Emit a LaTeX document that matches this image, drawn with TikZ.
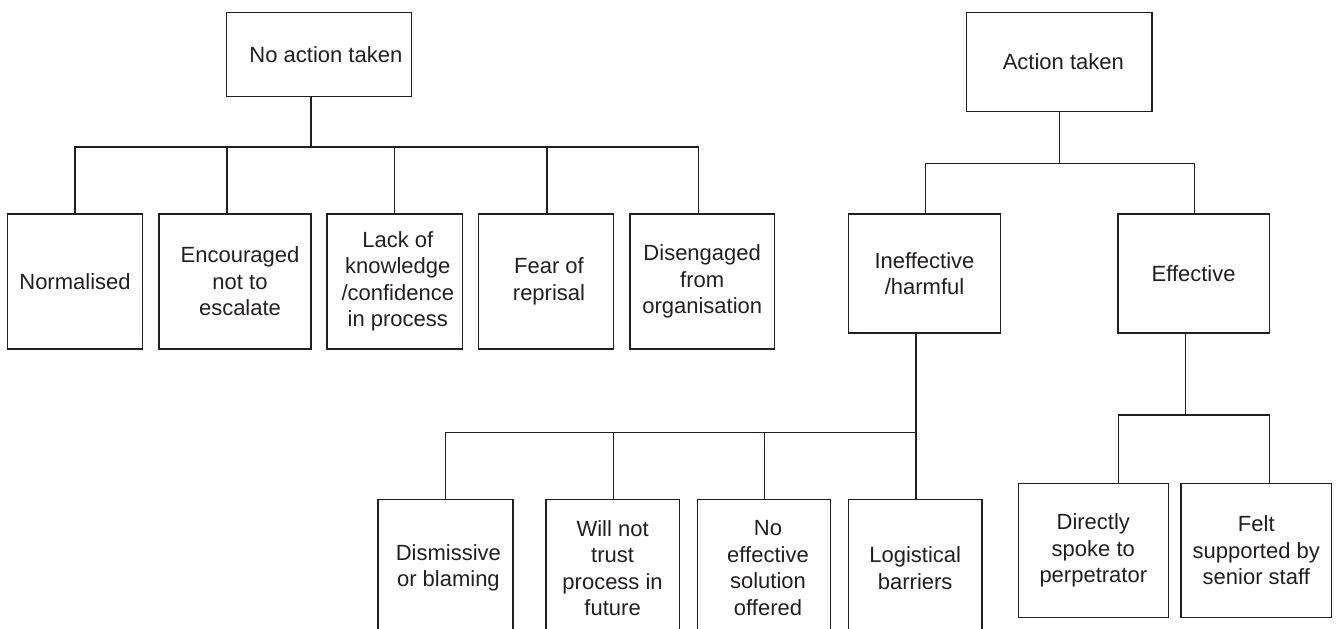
\documentclass[tikz,border=0pt]{standalone}
\usepackage{fontspec}
\setmainfont{Liberation Sans}
\definecolor{ink}{RGB}{35,31,32}
\begin{document}
\begin{tikzpicture}[x=1pt,y=-1pt,
  box/.style={draw=ink, line width=1.5pt, inner sep=0pt, outer sep=0pt, align=center,
    text=ink, font=\fontsize{22}{26.5}\selectfont},
  conn/.style={draw=ink, line width=1.3pt}]
\useasboundingbox (0,0) rectangle (1341,629);
\clip (0,0) rectangle (1341,629);
\fill[white] (0,0) rectangle (1341,629);

% left tree
\node[box, minimum width=185pt, minimum height=84.4pt] (noact) at (318.9,54.5) {\hspace*{14pt}No action taken};
\node[box, minimum width=135.4pt, minimum height=134.7pt] (norm) at (75,281.4) {Normalised};
\node[box, minimum width=152pt, minimum height=134.7pt] (enc) at (235,281.4) {\hspace*{10pt}Encouraged\\\hspace*{10pt}not to\\\hspace*{10pt}escalate};
\node[box, minimum width=135.8pt, minimum height=134.7pt] (lack) at (394.8,281.4) {\hspace*{6pt}Lack of\\\hspace*{6pt}knowledge\\\hspace*{6pt}/confidence\\\hspace*{6pt}in process};
\node[box, minimum width=134.8pt, minimum height=134.7pt] (fear) at (546,281.4) {\hspace*{6pt}Fear of\\\hspace*{6pt}reprisal};
\node[box, minimum width=144.8pt, minimum height=134.7pt] (diseng) at (702.2,281.4) {Disengaged\\from\\organisation};

% right tree
\node[box, minimum width=185.7pt, minimum height=99.4pt] (act) at (1059.3,62) {\hspace*{8pt}Action taken};
\node[box, minimum width=151.7pt, minimum height=118.7pt] (ineff) at (924.5,273.4) {Ineffective\\/harmful};
\node[box, minimum width=151.7pt, minimum height=118.7pt] (eff) at (1193.6,273.4) {Effective};

\node[box, minimum width=135pt, minimum height=137.4pt] (dism) at (445.4,568) {\hspace*{6pt}Dismissive\\\hspace*{6pt}or blaming};
\node[box, minimum width=133.3pt, minimum height=137.4pt] (will) at (612.6,568) {Will not\\trust\\process in\\future};
\node[box, minimum width=132.9pt, minimum height=137.4pt] (noeff) at (764,568) {\hspace*{8pt}No\\\hspace*{8pt}effective\\\hspace*{8pt}solution\\\hspace*{8pt}offered};
\node[box, minimum width=133.1pt, minimum height=137.4pt] (logi) at (915.2,568) {Logistical\\barriers};

\node[box, minimum width=150pt, minimum height=134.4pt] (direct) at (1093.3,550.5) {Directly\\spoke to\\perpetrator};
\node[box, minimum width=150.7pt, minimum height=134.4pt] (felt) at (1256.3,550.5) {Felt\\supported by\\senior staff};

% connectors
\foreach \c/\s in {norm/0, enc/-8, lack/0, fear/1, diseng/-4}
  \draw[conn] ([xshift=-8pt]noact.south) -- ++(0,50.3) -| ([xshift=\s pt]\c.north);
\foreach \c/\s in {ineff/1, eff/1}
  \draw[conn] (act.south) -- ++(0,51.6) -| ([xshift=\s pt]\c.north);
\foreach \c/\s in {dism/0, will/1, noeff/0.6, logi/0.8}
  \draw[conn] ([xshift=-8.5pt]ineff.south) -- ++(0,99.6) -| ([xshift=\s pt]\c.north);
\foreach \c/\s in {direct/25, felt/13}
  \draw[conn] ([xshift=-8.2pt]eff.south) -- ++(0,82.3) -| ([xshift=\s pt]\c.north);
\end{tikzpicture}
\end{document}
